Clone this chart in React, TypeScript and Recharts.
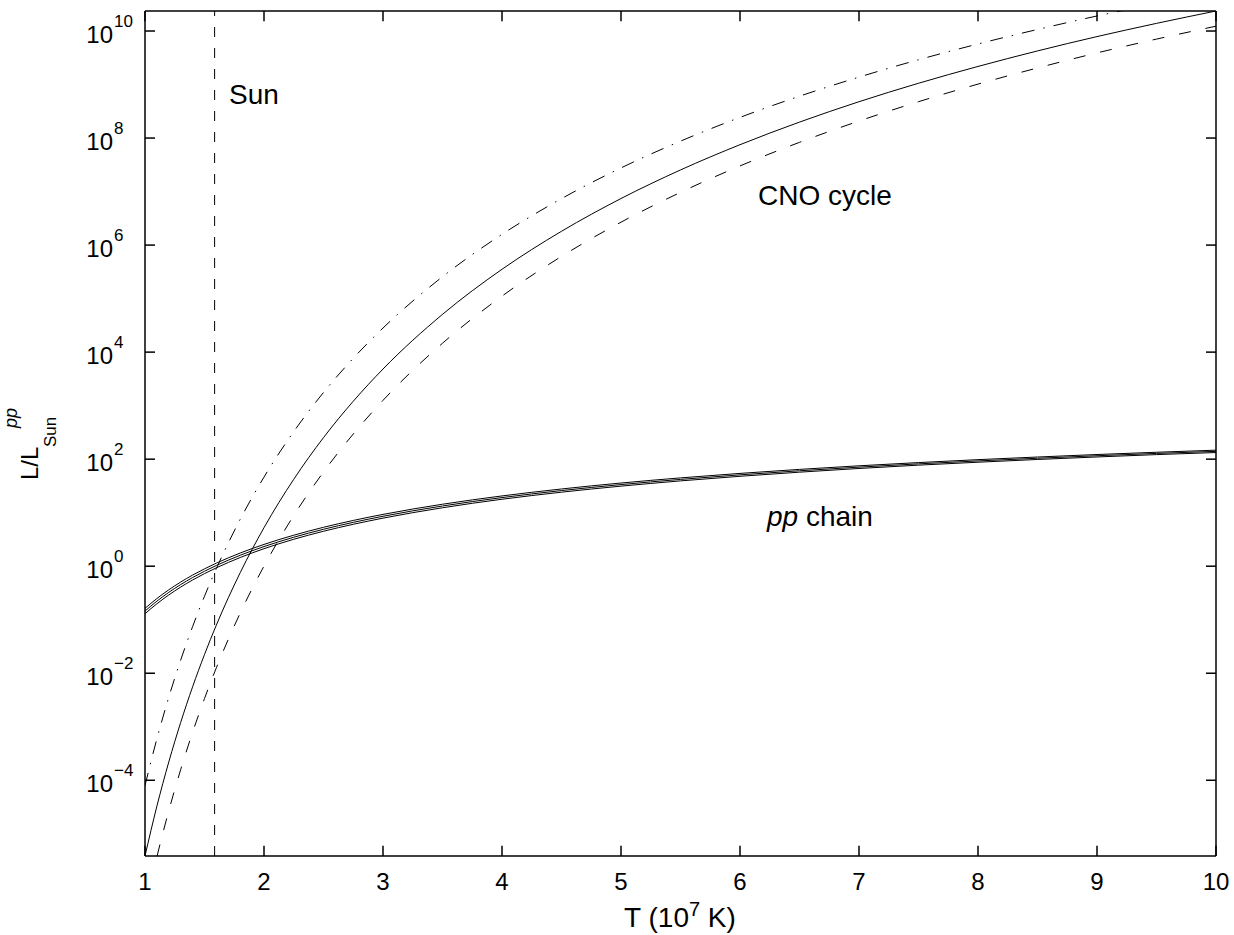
import { LineChart, Line, XAxis, YAxis, ReferenceLine } from "recharts"

// temperature in units of 10^7 K
const temps = [1, 1.1, 1.2, 1.3, 1.4, 1.5, 1.6, 1.8, 2, 2.25, 2.5, 2.75, 3, 3.5, 4, 4.5, 5, 5.5, 6, 6.5, 7, 7.5, 8, 8.5, 9, 9.5, 10]

// log10(L / L_sun^pp)
const cnoHigh = [-4.1, -3.224, -2.448, -1.754, -1.129, -0.561, -0.042, 0.876, 1.665, 2.515, 3.246, 3.885, 4.45, 5.409, 6.201, 6.868, 7.442, 7.942, 8.386, 8.782, 9.139, 9.463, 9.758, 10.029, 10.281, 10.513, 10.73]
const cnoMid = [-5.415, -4.483, -3.657, -2.919, -2.254, -1.65, -1.098, -0.121, 0.72, 1.624, 2.403, 3.082, 3.684, 4.706, 5.548, 6.258, 6.87, 7.404, 7.876, 8.298, 8.679, 9.024, 9.338, 9.628, 9.896, 10.143, 10.374]
const cnoLow = [-6.405, -5.431, -4.57, -3.799, -3.104, -2.473, -1.896, -0.876, 0.002, 0.947, 1.76, 2.47, 3.099, 4.166, 5.046, 5.789, 6.428, 6.985, 7.479, 7.92, 8.318, 8.679, 9.008, 9.31, 9.591, 9.849, 10.09]
const ppHigh = [-0.788, -0.604, -0.441, -0.296, -0.166, -0.049, 0.058, 0.246, 0.407, 0.579, 0.727, 0.855, 0.968, 1.158, 1.313, 1.443, 1.554, 1.65, 1.734, 1.809, 1.876, 1.936, 1.991, 2.04, 2.087, 2.129, 2.168]
const ppMid = [-0.838, -0.653, -0.489, -0.343, -0.212, -0.094, 0.014, 0.204, 0.367, 0.541, 0.69, 0.819, 0.933, 1.125, 1.282, 1.413, 1.525, 1.622, 1.707, 1.783, 1.851, 1.912, 1.967, 2.017, 2.064, 2.107, 2.146]
const ppLow = [-0.888, -0.702, -0.537, -0.39, -0.258, -0.139, -0.03, 0.162, 0.327, 0.503, 0.653, 0.783, 0.898, 1.092, 1.251, 1.383, 1.496, 1.594, 1.68, 1.757, 1.826, 1.888, 1.943, 1.994, 2.041, 2.085, 2.124]

const sunT = 1.585
const xTicks = [1, 2, 3, 4, 5, 6, 7, 8, 9, 10]
const yTicks = [-4, -2, 0, 2, 4, 6, 8, 10]
const yDomain = [-5.415, 10.374]

const data = temps.map((T, i) => ({
  T,
  cnoHigh: cnoHigh[i],
  cnoMid: cnoMid[i],
  cnoLow: cnoLow[i],
  ppHigh: ppHigh[i],
  ppMid: ppMid[i],
  ppLow: ppLow[i],
}))

const FONT = "'Liberation Sans', Arial, Helvetica, sans-serif"
// inward x tick length, in decades of the y axis (about 10px)
const X_TICK_LEN = 0.19

// y ticks point inward: negative tickSize, margin pulls the label back outside
const yFrame = {
  interval: 0 as const,
  allowDataOverflow: true,
  axisLine: { stroke: "#000", strokeWidth: 1.5 },
  tickLine: { stroke: "#000", strokeWidth: 1.5 },
  tickSize: -10,
  tickMargin: 10,
}

const xFrame = {
  interval: 0 as const,
  allowDataOverflow: true,
  axisLine: { stroke: "#000", strokeWidth: 1.5 },
  tickLine: false,
  tickSize: 0,
  tickMargin: 0,
}

function BottomTick({ x, y, payload }: any) {
  return (
    <text x={x} y={y + 34} textAnchor="middle" fontSize={24} fontFamily={FONT} fill="#000">
      {payload.value}
    </text>
  )
}

function LeftTick({ x, y, payload }: any) {
  const v = payload.value
  return (
    <g>
      <text x={x - 32} y={y + 12} textAnchor="end" fontSize={24} fontFamily={FONT} fill="#000">
        10
      </text>
      <text x={x - 31} y={y - 4} textAnchor="start" fontSize={17} fontFamily={FONT} fill="#000">
        {v < 0 ? `\u2212${-v}` : v}
      </text>
    </g>
  )
}

function NoLabel() {
  return <g />
}

const lineProps = { type: "monotone" as const, stroke: "#000", strokeWidth: 1, dot: false, activeDot: false, isAnimationActive: false }

export default function App() {
  return (
    <div style={{ position: "absolute", left: 0, top: 0, background: "#fff" }}>
      <LineChart width={1234} height={935} data={data} margin={{ top: 10, right: 17, bottom: 0, left: 0 }}>
        <XAxis dataKey="T" type="number" domain={[1, 10]} ticks={xTicks} height={79} {...xFrame} tick={<BottomTick />} />
        <XAxis xAxisId="top" orientation="top" dataKey="T" type="number" domain={[1, 10]} ticks={xTicks} height={1} {...xFrame} tick={<NoLabel />} />
        <YAxis type="number" domain={yDomain} ticks={yTicks} width={145} {...yFrame} tick={<LeftTick />} />
        <YAxis yAxisId="right" orientation="right" type="number" domain={yDomain} ticks={yTicks} width={1} {...yFrame} tick={<NoLabel />} />

        {xTicks.map((t) => (
          <ReferenceLine
            key={`b${t}`}
            segment={[{ x: t, y: yDomain[0] }, { x: t, y: yDomain[0] + X_TICK_LEN }]}
            stroke="#000"
            strokeWidth={1.5}
          />
        ))}
        {xTicks.map((t) => (
          <ReferenceLine
            key={`t${t}`}
            segment={[{ x: t, y: yDomain[1] }, { x: t, y: yDomain[1] - X_TICK_LEN }]}
            stroke="#000"
            strokeWidth={1.5}
          />
        ))}

        <ReferenceLine x={sunT} stroke="#000" strokeDasharray="10 11" strokeWidth={1} />
        <Line dataKey="ppHigh" {...lineProps} />
        {/* same domains as the bottom/left axes, so the mirrored frame axes get ticks too */}
        <Line dataKey="ppMid" xAxisId="top" yAxisId="right" {...lineProps} />
        <Line dataKey="ppLow" {...lineProps} />
        <Line dataKey="cnoHigh" strokeDasharray="13 9 1.5 9" {...lineProps} />
        <Line dataKey="cnoMid" {...lineProps} />
        <Line dataKey="cnoLow" strokeDasharray="12 15" {...lineProps} />

        <text x={229} y={104} fontSize={28} fontFamily={FONT} fill="#000">Sun</text>
        <text x={758} y={205} fontSize={28} fontFamily={FONT} fill="#000">CNO cycle</text>
        <text x={767} y={526} fontSize={28} fontFamily={FONT} fill="#000">
          <tspan fontStyle="italic">pp</tspan> chain
        </text>
        <text x={680} y={927} textAnchor="middle" fontSize={28} fontFamily={FONT} fill="#000">
          T (10<tspan fontSize={20} dy={-11}>7</tspan>
          <tspan dy={11}> K)</tspan>
        </text>
        <text transform="translate(38, 480) rotate(-90)" fontSize={24} fontFamily={FONT} fill="#000">
          <tspan x={0} y={0}>L/L</tspan>
          <tspan x={33} y={18} fontSize={17}>Sun</tspan>
          <tspan x={52} y={-21} fontSize={18} fontStyle="italic">pp</tspan>
        </text>
      </LineChart>
    </div>
  )
}
